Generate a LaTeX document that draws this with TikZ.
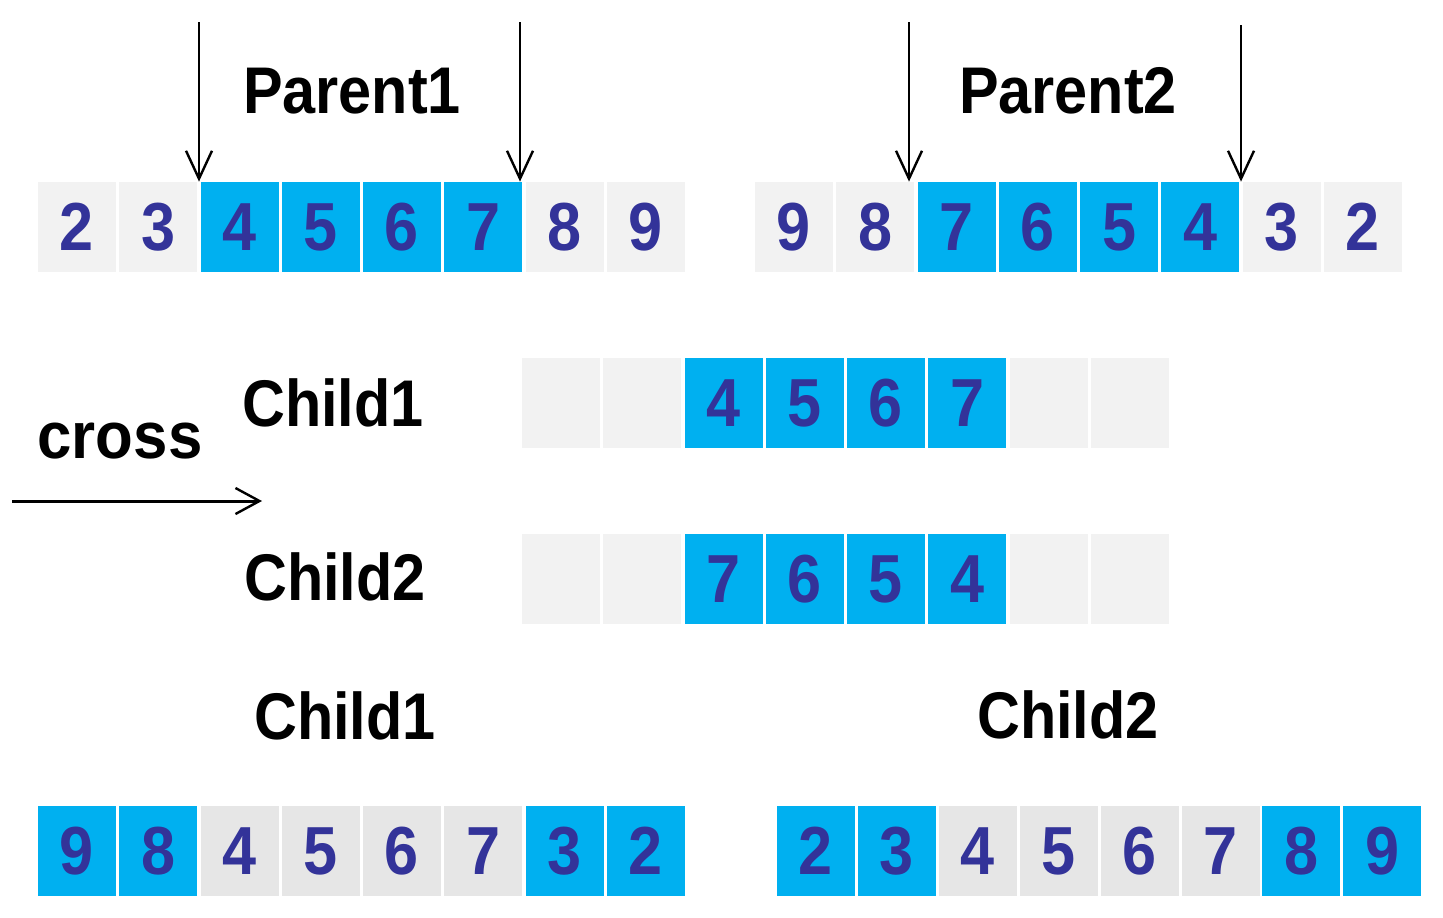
\documentclass[tikz,border=0pt]{standalone}
\usepackage{fontspec}
\setmainfont{Liberation Sans}
\usetikzlibrary{arrows.meta}
\definecolor{cyanc}{HTML}{00B0F0}
\definecolor{greyA}{HTML}{F2F2F2}
\definecolor{greyB}{HTML}{E6E6E6}
\definecolor{digc}{HTML}{333399}
\tikzset{
  cellbase/.style={minimum width=39pt,minimum height=45pt,inner sep=0pt,
    font=\fontsize{34}{34}\bfseries,text=digc},
  cg/.style={cellbase,fill=greyA},
  cgd/.style={cellbase,fill=greyB},
  cb/.style={cellbase,fill=cyanc},
  lbl/.style={font=\fontsize{33}{33}\bfseries,xscale=0.9,inner sep=0pt,anchor=base},
  cutarrow/.style={line width=1.2pt,-{Straight Barb[length=14pt,width=13pt,line width=1.2pt]}},
  crossarrow/.style={line width=1.5pt,-{Straight Barb[length=12pt,width=13pt,line width=1.2pt]}}
}
\newcommand{\dg}[1]{\scalebox{0.9}[1]{#1}}
\begin{document}
\begin{tikzpicture}[x=0.5pt,y=-0.5pt]
\useasboundingbox (0,0) rectangle (1443,917);
% Parent1 row
\foreach \d/\s [count=\i from 0] in {2/cg,3/cg,4/cb,5/cb,6/cb,7/cb,8/cg,9/cg}
  \node[\s] (pa\d) at ({77+81.25*\i},227) {\dg{\d}};
% Parent2 row
\foreach \d/\s [count=\i from 0] in {9/cg,8/cg,7/cb,6/cb,5/cb,4/cb,3/cg,2/cg}
  \node[\s] (pb\d) at ({794+81.25*\i},227) {\dg{\d}};
% Child rows (middle)
\foreach \d/\s [count=\i from 0] in {a/cg,b/cg,4/cb,5/cb,6/cb,7/cb,c/cg,d/cg}
  \node[\s] (ca\d) at ({561+81.25*\i},403) {\ifnum\i<2 \else\ifnum\i>5 \else\dg{\d}\fi\fi};
\foreach \d/\s [count=\i from 0] in {a/cg,b/cg,7/cb,6/cb,5/cb,4/cb,c/cg,d/cg}
  \node[\s] (cb\d) at ({561+81.25*\i},579) {\ifnum\i<2 \else\ifnum\i>5 \else\dg{\d}\fi\fi};
% Bottom rows
\foreach \d/\s [count=\i from 0] in {9/cb,8/cb,4/cgd,5/cgd,6/cgd,7/cgd,3/cb,2/cb}
  \node[\s] (da\d) at ({77+81.25*\i},851) {\dg{\d}};
\foreach \d/\s [count=\i from 0] in {2/cb,3/cb,4/cgd,5/cgd,6/cgd,7/cgd,8/cb,9/cb}
  \node[\s] (db\d) at ({816+80.9*\i},851) {\dg{\d}};
% labels
\node[lbl] (tp1) at (352,113) {Parent1};
\node[lbl] (tp2) at (1068,113) {Parent2};
\node[lbl] (tc1) at (333,426) {Child1};
\node[lbl] (tc2) at (335,600) {Child2};
\node[lbl,xscale=1.04] (tcr) at (120,458) {cross};
\node[lbl] (tc1b) at (345,739) {Child1};
\node[lbl] (tc2b) at (1068,738) {Child2};
% cut arrows
\coordinate (s1) at (199,22);
\coordinate (s2) at (520,22);
\coordinate (s3) at (909,22);
\coordinate (s4) at (1241,25);
\draw[cutarrow] (s1) -- (s1 |- pa4.north);
\draw[cutarrow] (s2) -- (s2 |- pa7.north);
\draw[cutarrow] (s3) -- (s3 |- pb7.north);
\draw[cutarrow] (s4) -- (s4 |- pb4.north);
% cross arrow
\coordinate (cs) at (12,501);
\coordinate (ce) at (262,501);
\draw[crossarrow] (cs) -- (ce);
\end{tikzpicture}
\end{document}
